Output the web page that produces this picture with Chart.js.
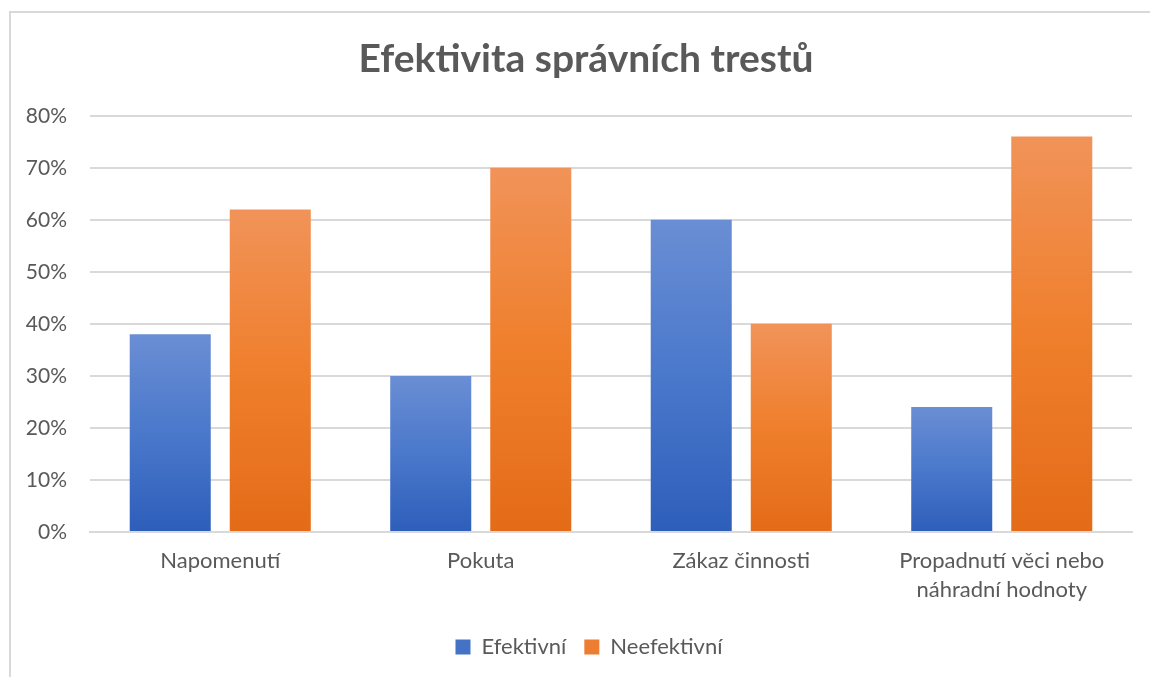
<!DOCTYPE html>
<html>
<head>
<meta charset="utf-8">
<script src="https://cdn.jsdelivr.net/npm/chart.js@4"></script>
<style>
  html, body { margin: 0; padding: 0; background: #fff; overflow: hidden; }
  .frame { position: absolute; left: 9px; top: 11px; width: 2000px; height: 2000px; border: 2px solid #d9d9d9; }
  .wrap { position: absolute; left: 0; top: 0; width: 1172px; height: 677px; }
</style>
</head>
<body>
<div class="frame"></div>
<div class="wrap"><canvas id="chart"></canvas></div>
<script>
// data
const categories = ['Napomenutí', 'Pokuta', 'Zákaz činnosti', ['Propadnutí věci nebo', 'náhradní hodnoty']];
const efektivni = [38, 30, 60, 24];
const neefektivni = [62, 70, 40, 76];
const yTicks = [0, 10, 20, 30, 40, 50, 60, 70, 80];

const textColor = '#595959';
const fontFamily = 'Lato, "Open Sans", sans-serif';

// one gradient per bar, lighter on top like the office style
function barGradient(stops, solid) {
    return function (ctx) {
        const chart = ctx.chart;
        if (!chart.chartArea || ctx.type !== 'data') return solid;
        const y = chart.scales.y;
        const top = y.getPixelForValue(ctx.parsed.y);
        const bottom = y.getPixelForValue(0);
        const g = chart.ctx.createLinearGradient(0, top, 0, bottom);
        g.addColorStop(0, stops[0]);
        g.addColorStop(0.5, stops[1]);
        g.addColorStop(1, stops[2]);
        return g;
    };
}

// title and legend are centred on the whole frame, not only on the plot
const centerOnFrame = {
    id: 'centerOnFrame',
    afterLayout: function (chart) {
        chart.titleBlock.left += 20;
        chart.titleBlock.right += 20;
        chart.legend.left += 23;
        chart.legend.right += 23;
    }
};

const ctx = document.getElementById('chart');
new Chart(ctx, {
    type: 'bar',
    data: {
        labels: categories,
        datasets: [
            {
                label: 'Efektivní',
                data: efektivni,
                backgroundColor: barGradient(['#6a8ed4', '#4a78cb', '#2d5eba'], '#4472c4'),
                categoryPercentage: 0.768,
                barPercentage: 0.81
            },
            {
                label: 'Neefektivní',
                data: neefektivni,
                backgroundColor: barGradient(['#f19359', '#ef7f2c', '#e46b18'], '#ed7d31'),
                categoryPercentage: 0.768,
                barPercentage: 0.81
            }
        ]
    },
    plugins: [centerOnFrame],
    options: {
        responsive: true,
        maintainAspectRatio: false,
        animation: false,
        layout: { padding: { left: 0, right: 40, top: 0, bottom: 9 } },
        plugins: {
            title: {
                display: true,
                text: 'Efektivita správních trestů',
                color: textColor,
                font: { family: fontFamily, size: 39, weight: 'bold' },
                padding: { top: 36, bottom: 33 }
            },
            legend: {
                position: 'bottom',
                labels: {
                    color: textColor,
                    font: { family: fontFamily, size: 22 },
                    boxWidth: 15,
                    boxHeight: 15,
                    padding: 18,
                    generateLabels: function (chart) {
                        const solids = ['#4472c4', '#ed7d31'];
                        return chart.data.datasets.map(function (ds, i) {
                            return {
                                text: ds.label,
                                fillStyle: solids[i],
                                strokeStyle: solids[i],
                                lineWidth: 0,
                                fontColor: textColor,
                                hidden: !chart.isDatasetVisible(i),
                                datasetIndex: i
                            };
                        });
                    }
                }
            },
            tooltip: { enabled: false }
        },
        scales: {
            x: {
                grid: { display: false, drawTicks: false },
                border: { color: '#d9d9d9', width: 2 },
                ticks: {
                    color: textColor,
                    font: { family: fontFamily, size: 22, lineHeight: 1.32 },
                    padding: 14,
                    maxRotation: 0
                }
            },
            y: {
                min: 0,
                max: 80,
                afterFit: function (scale) { scale.width = 90; },
                afterBuildTicks: function (scale) {
                    scale.ticks = yTicks.map(function (v) { return { value: v }; });
                },
                grid: { color: '#d9d9d9', lineWidth: 2, drawTicks: false },
                border: { display: false },
                ticks: {
                    color: textColor,
                    font: { family: fontFamily, size: 21 },
                    padding: 23,
                    callback: function (v) { return v + '%'; }
                }
            }
        }
    }
});
</script>
</body>
</html>
